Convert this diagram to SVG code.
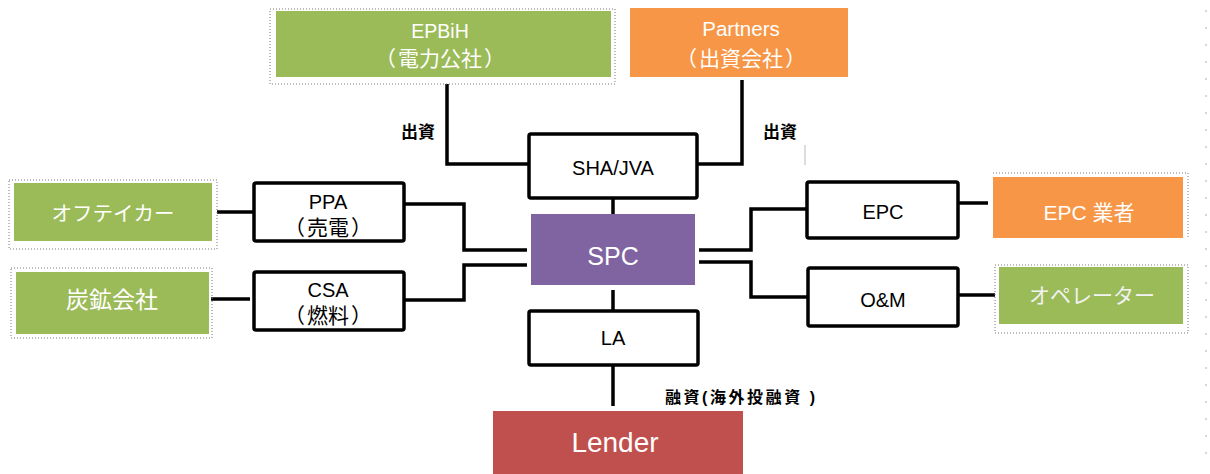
<svg xmlns="http://www.w3.org/2000/svg" width="1210" height="474" viewBox="0 0 1210 474">
<style>
text{font-family:"Liberation Sans","Noto Sans CJK JP",sans-serif;text-anchor:middle;dominant-baseline:central}
.w{fill:#ffffff}
.k{fill:#000000}
.box{fill:#ffffff;stroke:#000;stroke-width:3.5}
.ln{fill:none;stroke:#000;stroke-width:3.5;stroke-linejoin:miter}
.dot{fill:none;stroke:#777;stroke-width:1;stroke-dasharray:1 2}
.green{fill:#9BBB59}
.orange{fill:#F79646}
.lbl{font-size:20px}
.jp{font-size:21px}
.bl{font-size:17px;font-weight:bold}
</style>
<rect width="1210" height="474" fill="#ffffff"/>
<line x1="1206" y1="10" x2="1206" y2="468" stroke="#cccccc" stroke-width="1.5" stroke-dasharray="2 15"/>
<line x1="805" y1="145" x2="805" y2="165" stroke="#bbbbbb" stroke-width="1"/>

<g id="connectors">
<polyline class="ln" points="447,84 447,164 529,164"/>
<polyline class="ln" points="742,80 742,164 697,164"/>
<line class="ln" x1="613" y1="199" x2="613" y2="214"/>
<line class="ln" x1="613" y1="290" x2="613" y2="311"/>
<line class="ln" x1="613" y1="365" x2="613" y2="406"/>
<line class="ln" x1="217" y1="212" x2="254" y2="212"/>
<line class="ln" x1="211" y1="299" x2="250" y2="299" stroke-width="5"/>
<polyline class="ln" points="404,204 464,204 464,250 527,250"/>
<polyline class="ln" points="404,300 464,300 464,265 527,265"/>
<polyline class="ln" points="699,250 751,250 751,209 807,209"/>
<polyline class="ln" points="699,262 751,262 751,297 808,297"/>
<line class="ln" x1="958" y1="203" x2="988" y2="203"/>
<line class="ln" x1="958" y1="295" x2="995" y2="295" stroke-width="4.5"/>
</g>

<g id="epbih">
<rect class="dot" x="270" y="9" width="345" height="75"/>
<rect class="green" x="276" y="11" width="335" height="66"/>
<text class="w" x="440" y="31" font-size="19.5">EPBiH</text>
<text class="w jp" x="440" y="58">（<tspan dx="2">電力公社</tspan><tspan dx="2">）</tspan></text>
</g>

<g id="partners">
<rect class="orange" x="630" y="8" width="218" height="69"/>
<text class="w" x="741" y="28" font-size="20.5">Partners</text>
<text class="w jp" x="741" y="58">（<tspan dx="2">出資会社</tspan><tspan dx="2">）</tspan></text>
</g>

<text class="k bl" x="418" y="132">出資</text>
<text class="k bl" x="780" y="132">出資</text>

<g id="sha">
<rect class="box" x="529" y="134" width="168" height="64" rx="2"/>
<text class="k lbl" x="613" y="168">SHA/JVA</text>
</g>

<g id="spc">
<rect x="531" y="214" width="164" height="71" fill="#8064A2"/>
<text class="w" x="613" y="256" font-size="25">SPC</text>
</g>

<g id="la">
<rect class="box" x="529" y="311" width="169" height="54" rx="2"/>
<text class="k lbl" x="613" y="338">LA</text>
</g>

<g id="lender">
<rect x="493" y="411" width="250" height="63" fill="#C0504D"/>
<text class="w" x="615" y="442" font-size="28">Lender</text>
</g>

<text class="k" x="740" y="397" font-size="16" font-weight="bold" textLength="150" lengthAdjust="spacing">融資(海外投融資 )</text>

<g id="offtaker">
<rect class="dot" x="9" y="180" width="208" height="69"/>
<rect class="green" x="14" y="183" width="198" height="58"/>
<text class="w" x="113" y="213" font-size="20.5">オフテイカー</text>
</g>

<g id="coal">
<rect class="dot" x="11" y="268" width="201" height="70"/>
<rect class="green" x="16" y="272" width="193" height="62"/>
<text class="w" x="112" y="300" font-size="23">炭鉱会社</text>
</g>

<g id="ppa">
<rect class="box" x="254" y="183" width="150" height="58" rx="2"/>
<text class="k lbl" x="328" y="202">PPA</text>
<text class="k jp" x="328" y="227">（<tspan dx="2">売電</tspan><tspan dx="2">）</tspan></text>
</g>

<g id="csa">
<rect class="box" x="254" y="272" width="150" height="58" rx="2"/>
<text class="k lbl" x="328" y="290">CSA</text>
<text class="k jp" x="328" y="315">（<tspan dx="2">燃料</tspan><tspan dx="2">）</tspan></text>
</g>

<g id="epc">
<rect class="box" x="807" y="182" width="151" height="56" rx="2"/>
<text class="k lbl" x="883" y="212">EPC</text>
</g>

<g id="om">
<rect class="box" x="808" y="268" width="150" height="58" rx="2"/>
<text class="k lbl" x="883" y="300">O&amp;M</text>
</g>

<g id="epc-contractor">
<path class="dot" d="M993,173 H1188 V238"/>
<rect class="orange" x="993" y="177" width="190" height="61"/>
<text class="w" x="1089" y="212" font-size="21">EPC 業者</text>
</g>

<g id="operator">
<rect class="dot" x="995" y="265" width="193" height="68"/>
<rect class="green" x="999" y="267" width="184" height="57"/>
<text x="1092" y="295" font-size="21" fill="#f2f2f2">オペレーター</text>
</g>
</svg>
